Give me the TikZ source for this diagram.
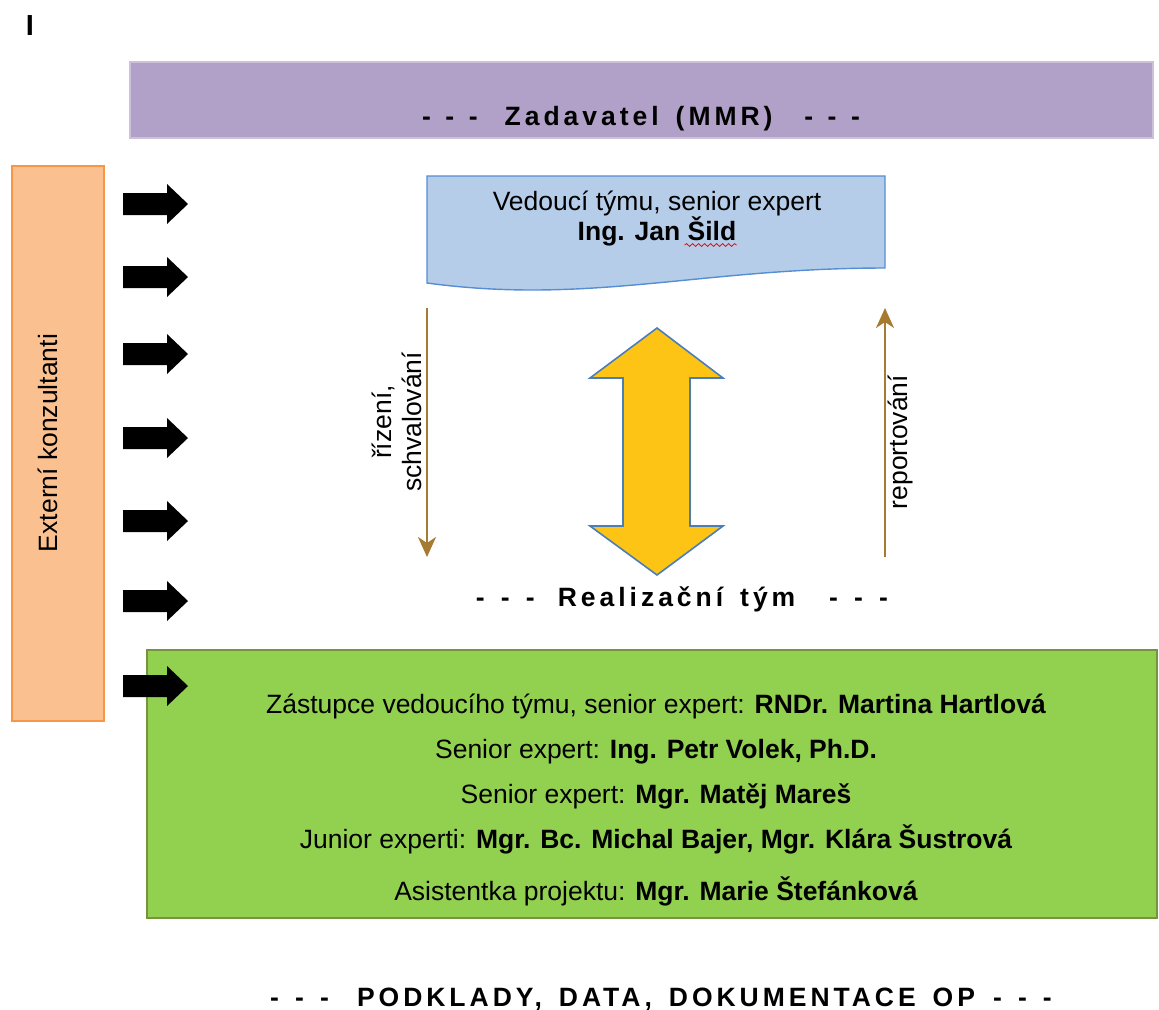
\documentclass[tikz,border=0pt]{standalone}
\usepackage{fontspec}
\setmainfont{Liberation Sans}
\newfontfamily\spacedfont[LetterSpace=15, WordSpace=1.5]{Liberation Sans}
\usepackage{tikz}
\usetikzlibrary{positioning, calc, arrows.meta, decorations.pathmorphing}

\definecolor{zadfill}{RGB}{177,160,199}
\definecolor{zadline}{RGB}{204,192,218}
\definecolor{konzfill}{RGB}{250,192,144}
\definecolor{konzline}{RGB}{247,150,70}
\definecolor{leadfill}{RGB}{182,205,233}
\definecolor{leadline}{RGB}{85,142,213}
\definecolor{teamfill}{RGB}{146,208,80}
\definecolor{teamline}{RGB}{119,147,60}
\definecolor{flowbrown}{RGB}{166,122,48}
\definecolor{linkfill}{RGB}{253,195,21}
\definecolor{linkline}{RGB}{74,126,187}

% three spaced dashes around the headings
\newcommand{\tridash}[1]{-\hspace{#1}-\hspace{#1}-}

\begin{document}
\begin{tikzpicture}[x=0.5pt, y=-0.5pt,
    every node/.style={inner sep=0pt, font=\fontsize{13.25}{15}\selectfont},
    title/.style={anchor=base, font=\fontsize{13.25}{15}\selectfont\spacedfont\bfseries},
    member/.style={anchor=base},
    flow/.style={draw=flowbrown, line width=1pt, -{Stealth[length=10pt, width=9pt, inset=3pt]}}]

        \useasboundingbox (0,0) rectangle (1159,1009);

        % Mark in the corner
        \node[anchor=base, font=\fontsize{14.5}{16}\selectfont\bfseries] (mark) at (30,35) {I};

        % Client bar
        \draw[fill=zadfill, draw=zadline, line width=0.8pt] (130,62) rectangle (1153,138);
        \node[title] (zad) at (641,125) {\tridash{0.55em}\hspace{1.02em}Zadavatel (MMR)\hspace{1.2em}\tridash{0.55em}};

        % External consultants
        \draw[fill=konzfill, draw=konzline, line width=1.2pt] (12,166) rectangle (104,721);
        \node[anchor=base, rotate=90] (konz) at (57,443) {Externí konzultanti};

        % Team leader (document shape)
        \draw[fill=leadfill, draw=leadline, line width=0.7pt] (427,176) -- (885,176) -- (885,268)
            .. controls (700,268) and (590,305) .. (427,283) -- cycle;
        \node[anchor=base] (lead) at (657,210) {Vedoucí týmu, senior expert};
        \node[anchor=base, font=\fontsize{13.25}{15}\selectfont\bfseries] (leadname) at (657,240) {Ing. Jan Šild};
        \draw[red, line width=0.4pt, decorate, decoration={snake, amplitude=0.7pt, segment length=3pt}]
            ($(leadname.base east)+(-52,5)$) -- ($(leadname.base east)+(0,5)$);

        % Flows between leader and team
        \coordinate (rizTop) at (427,308);
        \coordinate (rizBot) at (427,557);
        \coordinate (repBot) at (885,557);
        \coordinate (repTop) at (885,308);
        \draw[flow] (rizTop) -- (rizBot);
        \draw[flow] (repBot) -- (repTop);
        \node[rotate=90, align=center] (riz) at (397,422) {řízení,\\schvalování};
        \node[anchor=base, rotate=90] (rep) at (907,442) {reportování};

        % Double arrow
        \draw[fill=linkfill, draw=linkline, line width=0.8pt]
            (657,328) -- (723,378) -- (690,378) -- (690,526) -- (723,526) -- (657,575)
            -- (590,526) -- (623,526) -- (623,378) -- (590,378) -- cycle;

        \node[title] (real) at (682,606) {\tridash{0.61em}\hspace{0.87em}Realizační tým\hspace{1.28em}\tridash{0.61em}};

        % Team box
        \draw[fill=teamfill, draw=teamline, line width=1pt] (147,650) rectangle (1157,918);
        \node[member] (memb1) at (656,713) {Zástupce vedoucího týmu, senior expert: \textbf{RNDr. Martina Hartlová}};
        \node[member] (memb2) at (656,758) {Senior expert: \textbf{Ing. Petr Volek, Ph.D.}};
        \node[member] (memb3) at (656,803) {Senior expert: \textbf{Mgr. Matěj Mareš}};
        \node[member] (memb4) at (656,848) {Junior experti: \textbf{Mgr. Bc. Michal Bajer, Mgr. Klára Šustrová}};
        \node[member] (memb5) at (656,900) {Asistentka projektu: \textbf{Mgr. Marie Štefánková}};

        % Arrows from consultants
        \foreach \y in {204,277,354,438,521,601,686} {
            \fill (123,\y-11) -- (167,\y-11) -- (167,\y-20) -- (188,\y) -- (167,\y+20)
                -- (167,\y+11) -- (123,\y+11) -- cycle;
        }

        \node[title] (podklady) at (661,1006) {\tridash{0.61em}\hspace{1.06em}PODKLADY, DATA, DOKUMENTACE OP\hspace{0.68em}\tridash{0.61em}};
    \end{tikzpicture}
\end{document}
